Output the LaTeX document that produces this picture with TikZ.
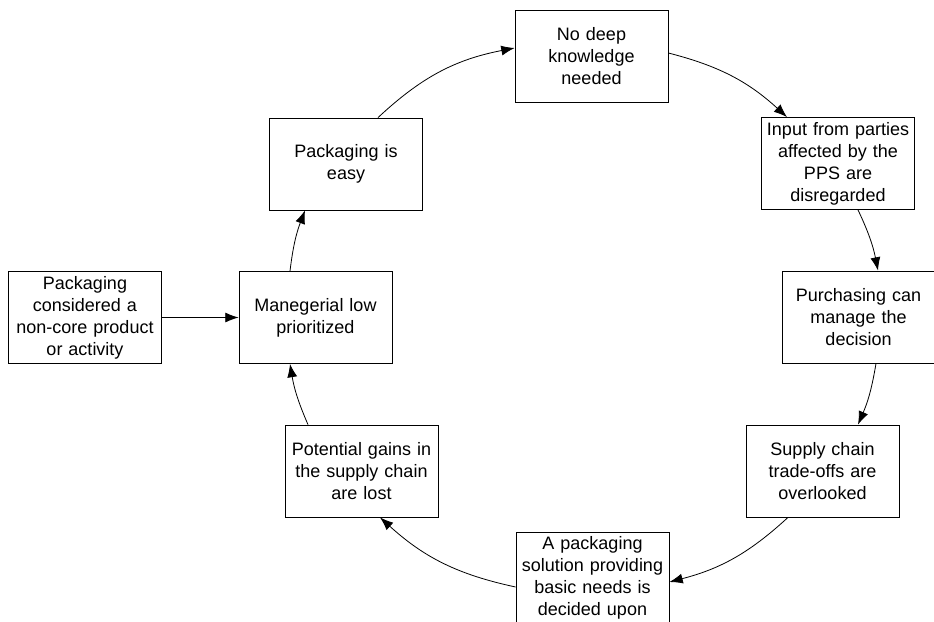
\documentclass[tikz,border=0pt]{standalone}
\usepackage{fontspec}
\setmainfont{Liberation Sans}
\usetikzlibrary{arrows.meta,calc}

\begin{document}
\begin{tikzpicture}[x=0.75pt,y=-0.75pt,
    box/.style={draw,line width=0.6pt,minimum width=114.75pt,minimum height=69pt,
        text width=112pt,align=center,inner sep=0pt,
        font=\fontsize{13.5}{16.5}\selectfont},
    flow/.style={line width=0.6pt,-{Latex[length=10pt,width=7.5pt]}}]
        % Page frame, cut at the edges like the original
        \path[use as bounding box,clip] (0,0) rectangle (934,621);
        % Draw the starting cause
        \node[box] (noncore) at (85,317.5) {Packaging\\considered a\\non-core product\\or activity};
        % Draw the boxes of the loop
        \node[box] (manage) at (315.5,317.5) {Manegerial low\\prioritized};
        \node[box] (easy) at (346,164) {Packaging is\\easy};
        \node[box] (nodeep) at (591.5,56) {No deep\\knowledge\\needed};
        \node[box] (input) at (838,163.5) {Input from parties\\affected by the\\PPS are\\disregarded};
        \node[box] (purch) at (858.5,317) {Purchasing can\\manage the\\decision};
        \node[box] (supply) at (822.5,471) {Supply chain\\trade-offs are\\overlooked};
        \node[box] (apack) at (592.5,578) {A packaging\\solution providing\\basic needs is\\decided upon};
        \node[box] (gains) at (361.5,471) {Potential gains in\\the supply chain\\are lost};
        % Draw the arrow into the loop
        \draw[flow] (noncore) -- (manage);
        % Draw the arrows round the loop
        \draw[flow] ($(manage.north)+(-25.5,0)$) to[bend left=7] ($(easy.south)+(-41,0)$);
        \draw[flow] ($(easy.north)+(32,0)$) to[bend left=16] ($(nodeep.west)+(0,-8)$);
        \draw[flow] ($(nodeep.east)+(0,-3)$) to[bend left=14] ($(input.north)+(-51,0)$);
        \draw[flow] ($(input.south)+(20,0)$) to[bend left=7] ($(purch.north)+(19.5,0)$);
        \draw[flow] ($(purch.south)+(17.5,0)$) to[bend left=7] ($(supply.north)+(35.5,0)$);
        \draw[flow] ($(supply.south)+(-34.5,0)$) to[bend left=14] ($(apack.east)+(0,4)$);
        \draw[flow] ($(apack.west)+(0,9)$) to[bend left=15] ($(gains.south)+(18.5,0)$);
        \draw[flow] ($(gains.north)+(-53.5,0)$) to[bend left=7] ($(manage.south)+(-25.5,0)$);
\end{tikzpicture}
\end{document}
